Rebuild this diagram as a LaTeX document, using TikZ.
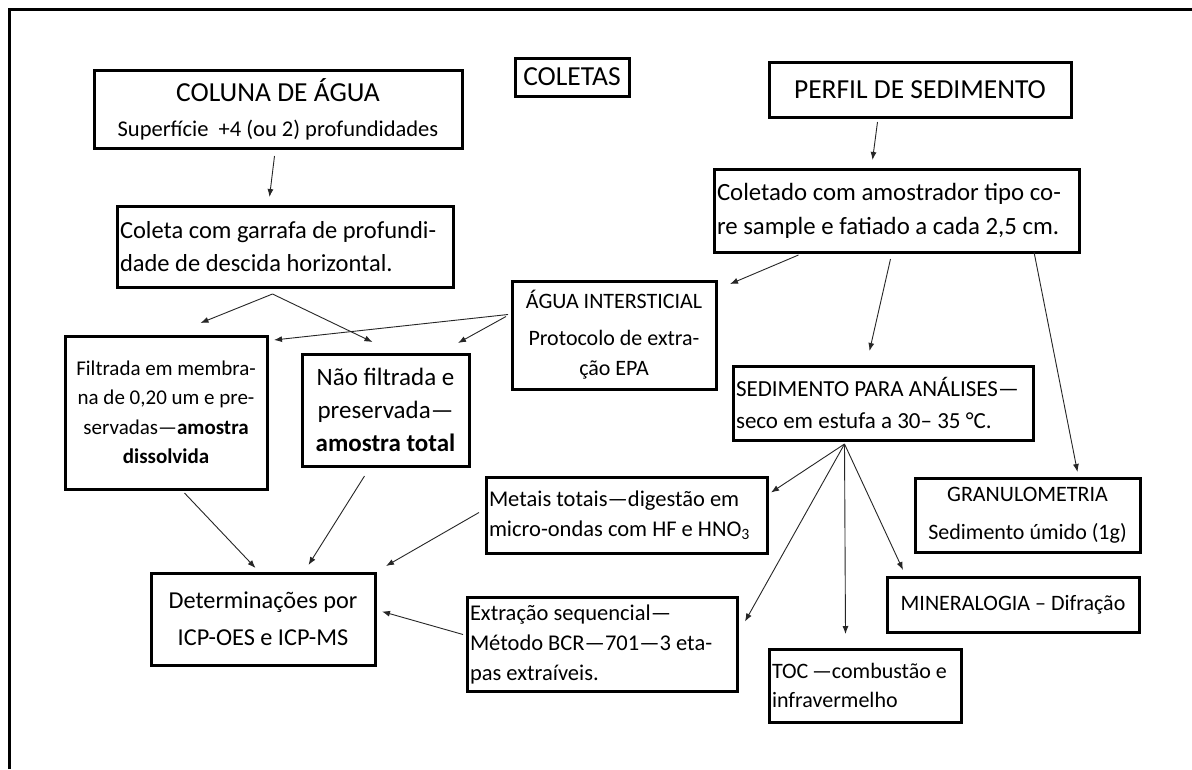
\documentclass[tikz,border=0pt]{standalone}
\usepackage{fontspec}
\setmainfont{Carlito}
\usetikzlibrary{arrows.meta}
\tikzset{
  >={Latex[width=6pt,length=8pt]},
}

\begin{document}
\begin{tikzpicture}[
    x=1pt, y=-1pt,
    box/.style={draw, line width=3pt, inner sep=0pt, align=center, anchor=north west},
    lbox/.style={box, align=flush left, inner xsep=3pt},
    tit/.style={font=\fontsize{27.5}{35}\selectfont},
    big/.style={font=\fontsize{24.5}{33}\selectfont},
    txt/.style={font=\fontsize{22}{30}\selectfont},
    arr/.style={->, line width=0.9pt, black!85},
  ]
  \fill[white] (0,0) rectangle (1192,769);
  \useasboundingbox (0,0) rectangle (1192,769);
  \draw[line width=3pt] (9,769) -- (9,9) -- (1192,9);

  \node[box, tit, minimum width=114pt, minimum height=38pt] (coletas) at (513.5,56.5) {COLETAS};
  \node[box, font=\fontsize{22.5}{35}\selectfont, minimum width=368pt, minimum height=78pt] (colu) at (92.5,68.5) {
    {\fontsize{27.5}{35}\selectfont COLUNA DE ÁGUA} \\
    Superfície \ +4 (ou 2) profundidades
  };
  \node[box, tit, minimum width=302pt, minimum height=55pt] (perfil) at (767.5,60.5) {PERFIL DE SEDIMENTO};
  \node[lbox, big, text width=330pt, minimum width=336pt, minimum height=81pt] (garrafa) at (115.5,204.5) {
    Coleta com garrafa de profundi- \\
    dade de descida horizontal.
  };
  \node[lbox, font=\fontsize{24.8}{34}\selectfont, text width=359pt, minimum width=365pt, minimum height=83pt] (core) at (712.5,167.5) {
    Coletado com amostrador tipo co- \\
    re sample e fatiado a cada 2,5 cm.
  };
  \node[box, txt, minimum width=204pt, minimum height=108pt] (agua) at (510.5,279.5) {
    ÁGUA INTERSTICIAL \\[7pt]
    Protocolo de extra- \\
    ção EPA
  };
  \node[box, font=\fontsize{21}{29.5}\selectfont, minimum width=202pt, minimum height=153pt] (filt) at (63.5,334.5) {
    Filtrada em membra- \\
    na de 0,20 um e pre- \\
    servadas—\textbf{amostra} \\
    \textbf{dissolvida}
  };
  \node[box, font=\fontsize{25}{33}\selectfont, minimum width=167pt, minimum height=112pt] (naofilt) at (300.5,352.5) {
    Não filtrada e \\
    preservada— \\
    \textbf{amostra total}
  };
  \node[lbox, font=\fontsize{23}{32}\selectfont, text width=294pt, minimum width=300pt, minimum height=74pt] (sed) at (731.5,364.5) {
    SEDIMENTO PARA ANÁLISES— \\
    seco em estufa a 30– 35 °C.
  };
  \node[lbox, font=\fontsize{22.5}{30}\selectfont, text width=275pt, minimum width=281pt, minimum height=76pt] (metais) at (484.5,475.5) {
    Metais totais—digestão em \\
    micro-ondas com HF e HNO\textsubscript{3}
  };
  \node[box, txt, minimum width=225pt, minimum height=74pt] (granulo) at (913.5,476.5) {
    GRANULOMETRIA \\[8pt]
    Sedimento úmido (1g)
  };
  \node[box, font=\fontsize{24.3}{37}\selectfont, minimum width=224pt, minimum height=92pt] (det) at (149.5,571.5) {
    Determinações por \\
    ICP-OES e ICP-MS
  };
  \node[lbox, font=\fontsize{22.5}{30}\selectfont, text width=264pt, minimum width=270pt, minimum height=94pt] (extr) at (465.5,595.5) {
    Extração sequencial— \\
    Método BCR—701—3 eta- \\
    pas extraíveis.
  };
  \node[box, txt, minimum width=252pt, minimum height=55pt] (miner) at (885.5,575.5) {MINERALOGIA – Difração};
  \node[lbox, font=\fontsize{22}{29}\selectfont, text width=186pt, minimum width=192pt, minimum height=73pt] (toc) at (767.5,647.5) {
    TOC\,—combustão e \\
    infravermelho
  };

  \coordinate (fan) at ([shift={(-38.5,2.5)}]sed.south);

  \draw[arr] ([shift={(-3.5,6.5)}]colu.south) -- ([shift={(-15.5,-7.5)}]garrafa.north);
  \draw[arr] ([shift={(-12.5,5.5)}]garrafa.south) -- ([shift={(34.5,-11.5)}]filt.north);
  \draw[arr] ([shift={(-12.5,5.5)}]garrafa.south) -- ([shift={(-13,-10.5)}]naofilt.north);
  \draw[arr] ([shift={(-2.5,-20.5)}]agua.west) -- ([shift={(5.5,5.5)}]filt.north east);
  \draw[arr] ([shift={(-4.5,-18.5)}]agua.west) -- ([shift={(-12.5,-9.5)}]naofilt.north east);
  \draw[arr] ([shift={(-42.5,3.5)}]perfil.south) -- ([shift={(-24,-7.5)}]core.north);
  \draw[arr] ([shift={(-98,1.5)}]core.south) -- ([shift={(12.5,4.5)}]agua.north east);
  \draw[arr] ([shift={(-6,5.5)}]core.south) -- ([shift={(-13.5,-13.5)}]sed.north);
  \draw[arr] ([shift={(-46.5,-1.5)}]core.south east) -- ([shift={(50,-4.5)}]granulo.north);
  \draw[arr] ([shift={(18.5,2.5)}]filt.south) -- ([shift={(-7.5,-3.5)}]det.north);
  \draw[arr] ([shift={(-21,8.5)}]naofilt.south) -- ([shift={(45.5,-6.5)}]det.north);
  \draw[arr] ([shift={(-5.5,-2.5)}]metais.west) -- ([shift={(9.5,-5.5)}]det.north east);
  \draw[arr] ([shift={(-2.5,-9.5)}]extr.west) -- ([shift={(5.5,-7.5)}]det.east);
  \draw[arr] (fan) -- ([shift={(2.5,-22.5)}]metais.east);
  \draw[arr] (fan) -- ([shift={(6.5,-22.5)}]extr.east);
  \draw[arr] (fan) -- ([shift={(-19.5,-13.5)}]toc.north);
  \draw[arr] (fan) -- ([shift={(17.5,-5.5)}]miner.north west);
\end{tikzpicture}
\end{document}
